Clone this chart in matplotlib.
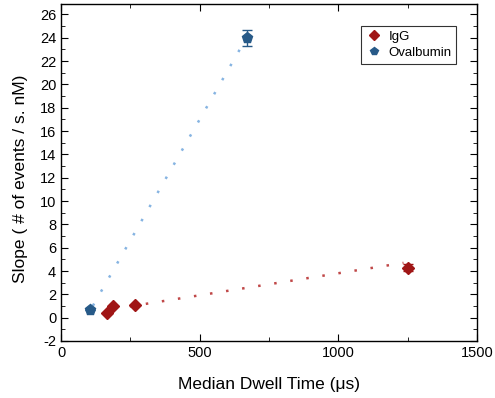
import numpy as np
import matplotlib.pyplot as plt
from matplotlib.ticker import MultipleLocator

plt.rcParams['font.family'] = ['Liberation Sans', 'DejaVu Sans']
plt.rcParams['axes.unicode_minus'] = False

# data
igg_x = [167, 187, 267, 1251]
igg_y = [0.38, 1.0, 1.09, 4.29]
igg_err = [0.0, 0.0, 0.0, 0.3]

ova_x = [105, 669]
ova_y = [0.65, 24.0]
ova_err = [0.0, 0.7]

# dotted fit lines: slope, intercept, x range
igg_fit = (0.00378, 0.03)
igg_fit_x = [190, 1235]
ova_fit = (0.0415, -3.75)
ova_fit_x = [115, 660]

red = '#a01616'
blue = '#275a88'

fig = plt.figure(figsize=(4.95, 3.98), dpi=100)
ax = fig.add_axes([61/495, 1 - 341/398, (477-61)/495, (341-4)/398])

xs = np.array(ova_fit_x)
ax.plot(xs, ova_fit[0]*xs + ova_fit[1], color='#86b4e2', lw=1.8, ls=(0, (1, 5.5)))
xs = np.array(igg_fit_x)
ax.plot(xs, igg_fit[0]*xs + igg_fit[1], color='#c04848', lw=1.8, ls=(0, (1, 5.5)))

ax.errorbar(igg_x, igg_y, yerr=igg_err, fmt='none', ecolor=red,
            capsize=3.5, elinewidth=1)
ax.errorbar(ova_x, ova_y, yerr=ova_err, fmt='none', ecolor=blue,
            capsize=3.5, elinewidth=1)
ax.plot(igg_x, igg_y, 'D', color=red, ms=6.5, ls='none', label='IgG')
ax.plot(ova_x, ova_y, 'p', color=blue, ms=8, ls='none', label='Ovalbumin')

ax.set_xlim(0, 1500)
ax.set_ylim(-2, 26.9)
ax.xaxis.set_major_locator(MultipleLocator(500))
ax.xaxis.set_minor_locator(MultipleLocator(250))
ax.yaxis.set_major_locator(MultipleLocator(2))
ax.yaxis.set_minor_locator(MultipleLocator(1))
ax.tick_params(which='both', direction='in', top=True, right=True, labelsize=10.5)
ax.tick_params(which='major', length=5)
ax.tick_params(which='minor', length=3)
for s in ax.spines.values():
    s.set_linewidth(1)

ax.set_xlabel('Median Dwell Time (μs)', fontsize=12.5, labelpad=12)
ax.set_ylabel('Slope ( # of events / s. nM)', fontsize=12.5)
ax.yaxis.set_label_coords(-0.08, 0.48)

leg = ax.legend(loc='upper right', bbox_to_anchor=(0.95, 0.935), fontsize=9.5,
                frameon=True, fancybox=False, edgecolor='black', borderaxespad=0,
                handletextpad=0.5, borderpad=0.35, handlelength=1.2,
                labelspacing=0.3, markerscale=0.75)
leg.get_frame().set_linewidth(0.8)

fig.savefig('out.png', dpi=100)
